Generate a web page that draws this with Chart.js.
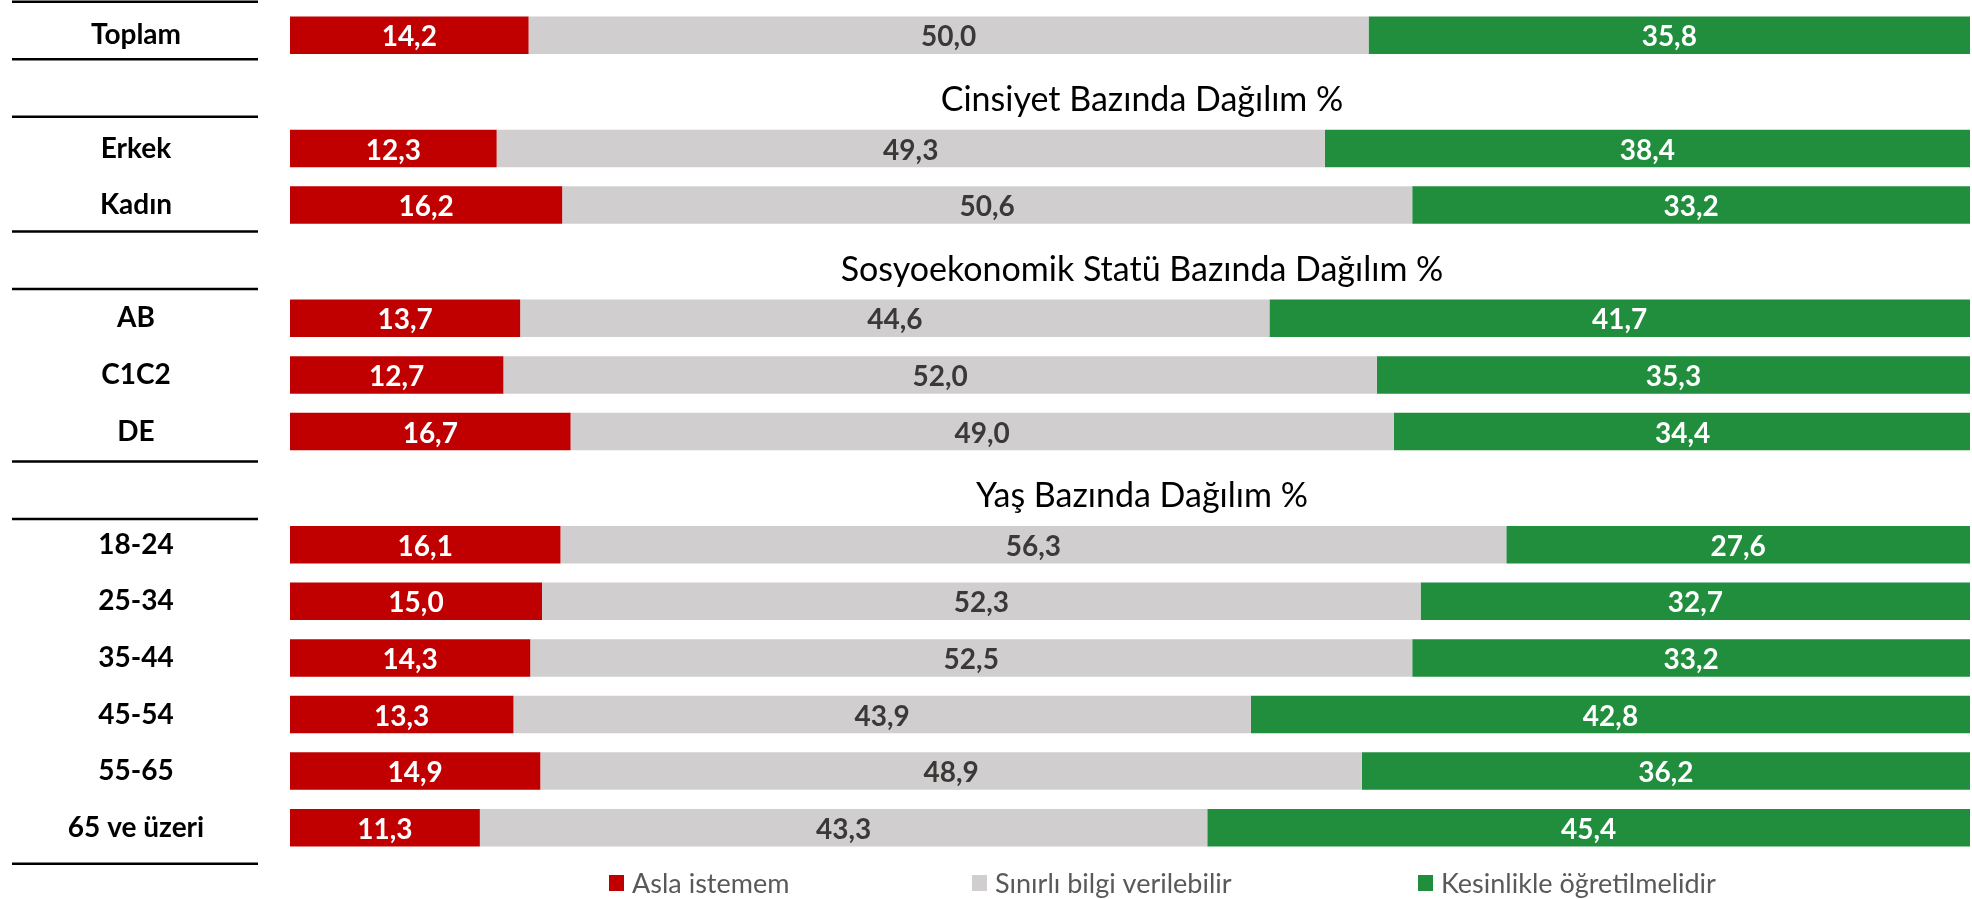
<!DOCTYPE html>
<html><head><meta charset="utf-8">
<script src="https://cdn.jsdelivr.net/npm/chart.js@4.4.1/dist/chart.umd.min.js"></script>
<style>html,body{margin:0;padding:0;background:#fff;overflow:hidden}#wrap{width:1972px;height:899px;position:relative}</style>
</head><body><div id="wrap"><canvas id="c" width="1972" height="899"></canvas></div>
<script>
// ---- data ----
const categories = ['Toplam', '', 'Erkek', 'Kadın', '', 'AB', 'C1C2', 'DE', '', '18-24', '25-34', '35-44', '45-54', '55-65', '65 ve üzeri'];
const seriesNames = ['Asla istemem', 'Sınırlı bilgi verilebilir', 'Kesinlikle öğretilmelidir'];
const aslaIstemem  = [14.2, null, 12.3, 16.2, null, 13.7, 12.7, 16.7, null, 16.1, 15.0, 14.3, 13.3, 14.9, 11.3];
const sinirliBilgi = [50.0, null, 49.3, 50.6, null, 44.6, 52.0, 49.0, null, 56.3, 52.3, 52.5, 43.9, 48.9, 43.3];
const kesinlikle   = [35.8, null, 38.4, 33.2, null, 41.7, 35.3, 34.4, null, 27.6, 32.7, 33.2, 42.8, 36.2, 45.4];
const sectionTitles = ['Cinsiyet Bazında Dağılım %', 'Sosyoekonomik Statü Bazında Dağılım %', 'Yaş Bazında Dağılım %'];
const sectionTitleSlots = [1, 4, 8];
const separatorBoundaries = [0, 1, 2, 4, 5, 8, 9, 15];

// ---- styles ----
const FONT = 'Lato, "Open Sans", sans-serif';
const COLORS = ['#C00000', '#D0CECE', '#208E3D'];
const VALUE_COLORS = ['#FFFFFF', '#3B3838', '#FFFFFF'];
const TICK_FONT = {family: FONT, weight: 'bold', size: 28};

const mctx = document.createElement('canvas').getContext('2d');
mctx.font = 'bold 28px ' + FONT;
const widest = Math.max(...categories.map(c => mctx.measureText(c).width));
const AXIS_W = 290, LABEL_CENTER = 136;
const tickPad = AXIS_W - LABEL_CENTER - widest / 2;

const fmt = v => v.toFixed(1).replace('.', ',');

const valueLabels = {
  id: 'valueLabels',
  afterDatasetsDraw(chart) {
    const ctx = chart.ctx;
    ctx.save();
    ctx.font = 'bold 28px ' + FONT;
    ctx.textAlign = 'center';
    ctx.textBaseline = 'middle';
    chart.data.datasets.forEach((ds, di) => {
      const meta = chart.getDatasetMeta(di);
      ctx.fillStyle = VALUE_COLORS[di];
      meta.data.forEach((el, i) => {
        const v = ds.data[i];
        if (v == null) return;
        const p = el.getProps(['x', 'base', 'y'], true);
        ctx.fillText(fmt(v), (p.x + p.base) / 2, p.y + 2);
      });
    });
    ctx.restore();
  }
};

const decorations = {
  id: 'decorations',
  afterDraw(chart) {
    const ctx = chart.ctx, ys = chart.scales.y, ca = chart.chartArea;
    ctx.save();
    // section titles
    ctx.font = '34px ' + FONT;
    ctx.fillStyle = '#000';
    ctx.textAlign = 'center';
    ctx.textBaseline = 'middle';
    sectionTitles.forEach((t, i) => {
      ctx.fillText(t, (ca.left + ca.right) / 2 + 12, ys.getPixelForValue(sectionTitleSlots[i]) + 8);
    });
    // table separator lines
    ctx.strokeStyle = '#000';
    ctx.lineWidth = 2.5;
    separatorBoundaries.forEach(k => {
      const y = ys.getPixelForValue(k - 0.5) - 5.3 + 0.87 * k;
      ctx.beginPath();
      ctx.moveTo(12, y);
      ctx.lineTo(258, y);
      ctx.stroke();
    });
    // legend
    const legendX = [609, 972, 1418];
    const ly = 883;
    ctx.font = '27px ' + FONT;
    ctx.textAlign = 'left';
    chart.data.datasets.forEach((ds, i) => {
      ctx.fillStyle = ds.backgroundColor;
      ctx.fillRect(legendX[i], ly - 8, 15, 16);
      ctx.fillStyle = '#595959';
      ctx.fillText(ds.label, legendX[i] + 23, ly + 1);
    });
    ctx.restore();
  }
};

new Chart(document.getElementById('c'), {
  type: 'bar',
  data: {
    labels: categories,
    datasets: [
      {label: seriesNames[0], data: aslaIstemem, backgroundColor: COLORS[0]},
      {label: seriesNames[1], data: sinirliBilgi, backgroundColor: COLORS[1]},
      {label: seriesNames[2], data: kesinlikle, backgroundColor: COLORS[2]}
    ]
  },
  options: {
    indexAxis: 'y',
    responsive: false,
    animation: false,
    layout: {padding: {top: 7, right: 2, bottom: 43, left: 0}},
    datasets: {bar: {categoryPercentage: 1, barPercentage: 0.662}},
    scales: {
      x: {stacked: true, min: 0, max: 100, display: false},
      y: {
        stacked: true,
        grid: {display: false, drawTicks: false},
        border: {display: false},
        ticks: {font: TICK_FONT, color: '#000', crossAlign: 'center', padding: tickPad, autoSkip: false},
        afterFit(s) { s.width = AXIS_W; s.paddingTop = 0; s.paddingBottom = 0; }
      }
    },
    plugins: {legend: {display: false}, tooltip: {enabled: false}}
  },
  plugins: [valueLabels, decorations]
});
</script></body></html>
